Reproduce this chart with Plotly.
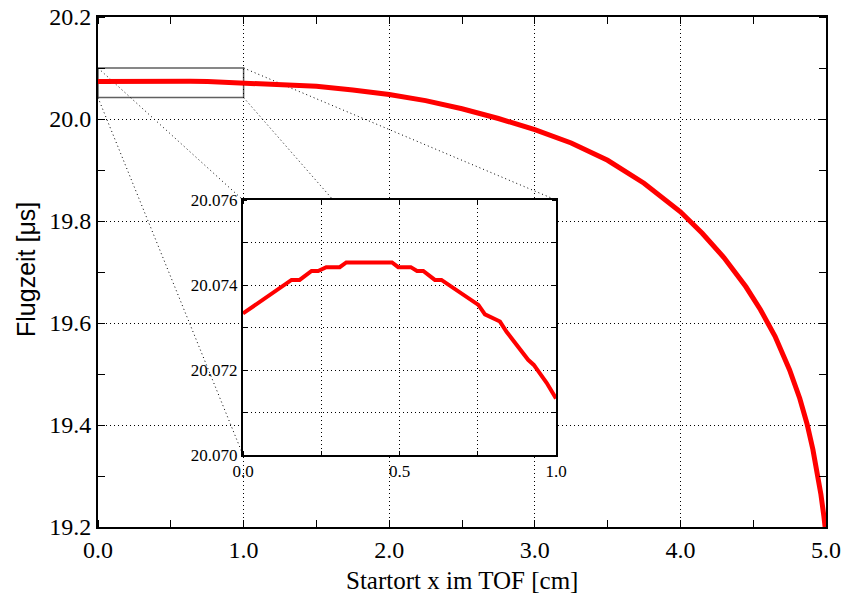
import plotly.graph_objects as go

# ---------------- data ----------------
x_cm = [0.0, 0.155, 0.181, 0.219, 0.240, 0.266, 0.309, 0.330, 0.476, 0.496,
        0.536, 0.556, 0.576, 0.613, 0.634, 0.752, 0.773, 0.821, 0.842, 0.853,
        0.911, 0.929, 0.970, 1.0, 1.25, 1.5, 1.75, 2.0, 2.25, 2.5, 2.75, 3.0,
        3.25, 3.5, 3.75, 4.0, 4.15, 4.3, 4.45, 4.55, 4.65, 4.75, 4.82, 4.87,
        4.91, 4.94, 4.965, 4.985, 5.0]
t_us = [20.07333, 20.07412, 20.07412, 20.07433, 20.07433, 20.07442, 20.07442,
        20.07453, 20.07453, 20.07442, 20.07442, 20.07433, 20.07433, 20.07412,
        20.07412, 20.07353, 20.07331, 20.07314, 20.07290, 20.07280, 20.07224,
        20.07212, 20.07170, 20.07133, 20.0686, 20.0640, 20.0570, 20.0480,
        20.0360, 20.0200, 20.0010, 19.9790, 19.9530, 19.9190, 19.8740, 19.8180,
        19.7760, 19.7280, 19.6710, 19.6260, 19.5740, 19.5080, 19.4520, 19.4020,
        19.3520, 19.3080, 19.2640, 19.2220, 19.1850]

main_x_ticks = [0, 1, 2, 3, 4, 5]
main_y_ticks = [19.2, 19.4, 19.6, 19.8, 20.0, 20.2]
inset_x_ticks = [0.0, 0.5, 1.0]
inset_y_ticks = [20.070, 20.072, 20.074, 20.076]
zoom_box_x = [0.0, 1.0]
zoom_box_y = [20.042, 20.100]

# ---------------- layout geometry ----------------
W, H = 843, 598
mainL, mainR, mainT, mainB = 98, 826, 17, 527
insL, insR, insT, insB = 243, 556, 200, 455
main_xr = [0, 5]
main_yr = [19.2, 20.2]

main_xd = [mainL / W, mainR / W]
main_yd = [1 - mainB / H, 1 - mainT / H]
ins_xd = [insL / W, insR / W]
ins_yd = [1 - insB / H, 1 - insT / H]

def paper_to_main_x(px):
    return main_xr[0] + (px - main_xd[0]) / (main_xd[1] - main_xd[0]) * (main_xr[1] - main_xr[0])

def paper_to_main_y(py):
    return main_yr[0] + (py - main_yd[0]) / (main_yd[1] - main_yd[0]) * (main_yr[1] - main_yr[0])

serif = "Liberation Serif"
sans = "Liberation Sans"
dotgrid = "1px,3px"

fig = go.Figure()
fig.add_trace(go.Scatter(x=x_cm, y=t_us, mode="lines",
                         line=dict(color="#ff0000", width=5),
                         xaxis="x", yaxis="y", showlegend=False, hoverinfo="skip"))
ix = [v for v in x_cm if v <= 1.0]
iy = t_us[:len(ix)]
fig.add_trace(go.Scatter(x=ix, y=iy, mode="lines",
                         line=dict(color="#ff0000", width=4),
                         xaxis="x2", yaxis="y2", showlegend=False, hoverinfo="skip"))

# zoom box
fig.add_shape(type="rect", xref="x", yref="y",
              x0=zoom_box_x[0], x1=zoom_box_x[1], y0=zoom_box_y[0], y1=zoom_box_y[1],
              line=dict(color="#606060", width=1.5), layer="below")

# connector lines from box corners to inset corners
corners = [
    (zoom_box_x[0], zoom_box_y[1], ins_xd[0], ins_yd[1]),
    (zoom_box_x[0], zoom_box_y[0], ins_xd[0], ins_yd[0]),
    (zoom_box_x[1], zoom_box_y[1], ins_xd[1], ins_yd[1]),
    (zoom_box_x[1], zoom_box_y[0], ins_xd[1], ins_yd[0]),
]
for bx, by, px, py in corners:
    fig.add_shape(type="line", xref="x", yref="y",
                  x0=bx, y0=by, x1=paper_to_main_x(px), y1=paper_to_main_y(py),
                  line=dict(color="black", width=1, dash="1px,3px"), layer="below")

axis_common = dict(showline=True, linecolor="black", mirror="ticks",
                   gridcolor="black", griddash=dotgrid, gridwidth=1,
                   zeroline=False, ticks="", color="black", automargin=False)

fig.update_layout(
    width=W, height=H, margin=dict(l=0, r=0, t=0, b=0, autoexpand=False),
    paper_bgcolor="white", plot_bgcolor="white",
    font=dict(family=serif, color="black"),
    xaxis=dict(domain=main_xd, range=main_xr, tickvals=main_x_ticks,
               ticktext=[f"{v:.1f}" for v in main_x_ticks],
               showgrid=True, linewidth=2,
               tickfont=dict(family=serif, size=24, color="black"),
               minor=dict(dtick=0.5, tick0=0, ticks="inside", ticklen=7,
                          tickcolor="black", tickwidth=1, showgrid=False),
               **axis_common),
    yaxis=dict(domain=main_yd, range=main_yr, tickvals=main_y_ticks,
               ticktext=[f"{v:.1f}" for v in main_y_ticks],
               showgrid=True, linewidth=2,
               tickfont=dict(family=serif, size=24, color="black"),
               minor=dict(dtick=0.1, tick0=19.2, ticks="inside", ticklen=7,
                          tickcolor="black", tickwidth=1, showgrid=False),
               **axis_common),
    xaxis2=dict(domain=ins_xd, range=[0, 1], anchor="y2", tickvals=inset_x_ticks,
                ticktext=[f"{v:.1f}" for v in inset_x_ticks],
                showgrid=True, linewidth=2,
                tickfont=dict(family=serif, size=17, color="black"),
                minor=dict(dtick=0.25, tick0=0, ticks="inside", ticklen=4,
                           tickcolor="black", tickwidth=1, showgrid=True,
                           gridcolor="black", griddash=dotgrid, gridwidth=1),
                **axis_common),
    yaxis2=dict(domain=ins_yd, range=[20.070, 20.076], anchor="x2",
                tickvals=inset_y_ticks,
                ticktext=[f"{v:.3f}" for v in inset_y_ticks],
                showgrid=True, linewidth=2,
                tickfont=dict(family=serif, size=17, color="black"),
                minor=dict(dtick=0.001, tick0=20.070, ticks="inside", ticklen=4,
                           tickcolor="black", tickwidth=1, showgrid=True,
                           gridcolor="black", griddash=dotgrid, gridwidth=1),
                **axis_common),
    annotations=[
        dict(text="Startort x im TOF [cm]", xref="paper", yref="paper",
             x=(mainL + mainR) / 2 / W, y=1 - 580 / H, showarrow=False,
             font=dict(family=serif, size=25, color="black"),
             xanchor="center", yanchor="middle"),
        dict(text="Flugzeit [μs]", xref="paper", yref="paper",
             x=26 / W, y=1 - 270 / H, showarrow=False, textangle=-90,
             font=dict(family=sans, size=25, color="black"),
             xanchor="center", yanchor="middle"),
    ],
)

fig.write_html("out.html")
